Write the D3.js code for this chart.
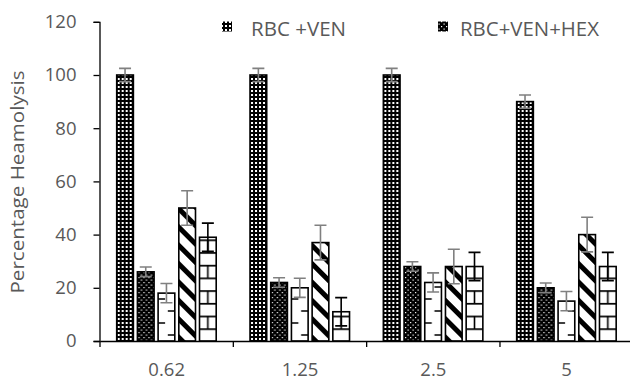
<!DOCTYPE html>
<html>
<head>
<meta charset="utf-8">
<script src="https://cdn.jsdelivr.net/npm/d3@7/dist/d3.min.js"></script>
<style>
  body { margin: 0; background: #fff; }
  text { font-family: "Open Sans", sans-serif; fill: #595959; }
</style>
</head>
<body>
<div id="chart"></div>
<script>
// concentrations on the x axis
const categories = ["0.62", "1.25", "2.5", "5"];
const seriesNames = ["RBC +VEN", "RBC+VEN+HEX", "Series 3", "Series 4", "Series 5"];
const legendNames = ["RBC +VEN", "RBC+VEN+HEX"];

// mean haemolysis (%) per series
const rbcVen       = [100, 100, 100, 90];
const rbcVenHex    = [26, 22, 28, 20];
const series3      = [18, 20, 22, 15];
const series4      = [50, 37, 28, 40];
const series5      = [39, 11, 28, 28];
// error bars (+/-)
const rbcVenErr    = [2.5, 2.5, 2.5, 2.5];
const rbcVenHexErr = [1.8, 1.8, 1.8, 1.8];
const series3Err   = [3.6, 3.6, 3.6, 3.6];
const series4Err   = [6.5, 6.5, 6.5, 6.5];
const series5Err   = [5.3, 5.3, 5.3, 5.3];
const yTicks = [0, 20, 40, 60, 80, 100, 120];

const values = [rbcVen, rbcVenHex, series3, series4, series5];
const errors = [rbcVenErr, rbcVenHexErr, series3Err, series4Err, series5Err];
const errColors = ["#808080", "#808080", "#808080", "#808080", "#000"];

const width = 630, height = 381;
const svg = d3.select("#chart").append("svg")
  .attr("width", width).attr("height", height);

const x0 = d3.scaleBand().domain(categories).range([100, 633.3]);
const x1 = d3.scaleBand().domain(d3.range(5)).range([16.7, 116.2]).paddingInner(0.194);
const y = d3.scaleLinear().domain([0, 120]).range([341, 21.8]);
const bw = x1.bandwidth();

// fill patterns
const defs = svg.append("defs");
const p1 = defs.append("pattern").attr("id", "p0").attr("patternUnits", "userSpaceOnUse")
  .attr("width", 4).attr("height", 4);
p1.append("rect").attr("width", 4).attr("height", 4).attr("fill", "#000");
p1.append("rect").attr("x", 1).attr("y", 1).attr("width", 2).attr("height", 2).attr("fill", "#fff");

const p2 = defs.append("pattern").attr("id", "p1").attr("patternUnits", "userSpaceOnUse")
  .attr("width", 5).attr("height", 5);
p2.append("rect").attr("width", 5).attr("height", 5).attr("fill", "#000");
p2.append("rect").attr("x", 1).attr("y", 1).attr("width", 1.2).attr("height", 1.2).attr("fill", "#fff");
p2.append("rect").attr("x", 3.5).attr("y", 3.5).attr("width", 1.2).attr("height", 1.2).attr("fill", "#fff");

const p3 = defs.append("pattern").attr("id", "p2").attr("patternUnits", "userSpaceOnUse")
  .attr("width", bw).attr("height", 24);
p3.append("rect").attr("width", bw).attr("height", 24).attr("fill", "#fff");
p3.append("path").attr("d", `M0,6H7M${bw - 7},18H${bw}`).attr("stroke", "#000").attr("stroke-width", 1.6);

const p4 = defs.append("pattern").attr("id", "p3").attr("patternUnits", "userSpaceOnUse")
  .attr("width", 13).attr("height", 13).attr("patternTransform", "rotate(-45)");
p4.append("rect").attr("width", 13).attr("height", 13).attr("fill", "#fff");
p4.append("rect").attr("width", 5).attr("height", 13).attr("fill", "#000");

const p5 = defs.append("pattern").attr("id", "p4").attr("patternUnits", "userSpaceOnUse")
  .attr("width", bw).attr("height", 25.4);
p5.append("rect").attr("width", bw).attr("height", 25.4).attr("fill", "#fff");
p5.append("path")
  .attr("d", `M0,0.8H${bw}M0,13.5H${bw}M${bw / 2},0.8V13.5`)
  .attr("stroke", "#000").attr("stroke-width", 1.6);

// y axis
const yAxis = svg.append("g").attr("transform", "translate(99.5,0)")
  .call(d3.axisLeft(y).tickValues(yTicks).tickSize(6).tickPadding(17));
yAxis.select(".domain").attr("stroke", "#000").attr("stroke-width", 1.3);
yAxis.selectAll(".tick line").attr("stroke", "#000").attr("stroke-width", 1.3);
yAxis.selectAll(".tick text").attr("font-size", 18.5).attr("fill", "#595959");

svg.append("text")
  .attr("transform", "translate(24,182) rotate(-90)")
  .attr("text-anchor", "middle")
  .attr("font-size", 18)
  .attr("textLength", 223)
  .attr("lengthAdjust", "spacingAndGlyphs")
  .text("Percentage Heamolysis");

// bars
const groups = svg.append("g").selectAll("g").data(categories).join("g")
  .attr("transform", d => `translate(${x0(d)},0)`);

const bars = groups.selectAll("g.bar")
  .data((c, ci) => values.map((v, si) => ({ si, v: v[ci], e: errors[si][ci] })))
  .join("g").attr("class", "bar")
  .attr("transform", d => `translate(${x1(d.si)},${y(0)})`);

bars.append("rect")
  .attr("x", 0)
  .attr("y", d => y(d.v) - y(0))
  .attr("width", bw)
  .attr("height", d => y(0) - y(d.v))
  .attr("fill", d => `url(#p${d.si})`)
  .attr("stroke", "#000").attr("stroke-width", 1.6);

// error bars
bars.append("path")
  .attr("d", d => {
    const t = y(d.v + d.e) - y(0), b = y(d.v - d.e) - y(0), cx = bw / 2;
    return `M${cx},${t}V${b}M${cx - 6},${t}H${cx + 6}M${cx - 6},${b}H${cx + 6}`;
  })
  .attr("fill", "none")
  .attr("stroke", d => errColors[d.si])
  .attr("stroke-width", 1.6);

// x axis
const xAxis = svg.append("g").attr("transform", `translate(0,${y(0)})`)
  .call(d3.axisBottom(x0).tickSize(0).tickPadding(22));
xAxis.select(".domain").attr("stroke", "#000").attr("stroke-width", 1.3);
xAxis.selectAll(".tick text").attr("font-size", 18.5).attr("fill", "#595959");
svg.append("g").selectAll("line").data(categories).join("line")
  .attr("x1", d => x0(d)).attr("x2", d => x0(d))
  .attr("y1", y(0)).attr("y2", y(0) + 6)
  .attr("stroke", "#000").attr("stroke-width", 1.3);

// legend
const legendIconX = [222, 438];
const legendTextX = [251, 460];
const legendTextW = [95, 139];
const legend = svg.append("g").selectAll("g").data(legendNames).join("g");
legend.append("rect")
  .attr("x", (d, i) => legendIconX[i]).attr("y", 21.5)
  .attr("width", 10).attr("height", 10)
  .attr("fill", (d, i) => `url(#p${i})`);
legend.append("text")
  .attr("x", (d, i) => legendTextX[i]).attr("y", 35.5)
  .attr("font-size", 19.5)
  .attr("textLength", (d, i) => legendTextW[i])
  .attr("lengthAdjust", "spacingAndGlyphs")
  .text(d => d);
</script>
</body>
</html>
